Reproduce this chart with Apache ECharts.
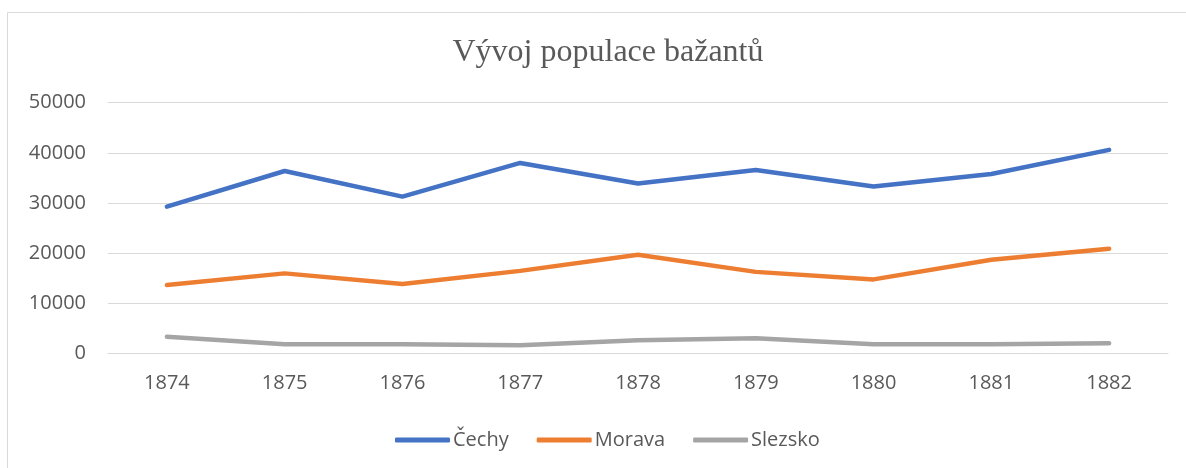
<!DOCTYPE html>
<html>
<head>
<meta charset="utf-8">
<script src="https://cdn.jsdelivr.net/npm/echarts@6/dist/echarts.min.js"></script>
<style>
  html, body { margin: 0; padding: 0; background: #fff; }
  #chart { width: 1186px; height: 468px; }
</style>
</head>
<body>
<div id="chart"></div>
<script>
var years = ['1874', '1875', '1876', '1877', '1878', '1879', '1880', '1881', '1882'];
var cechy = [29300, 36400, 31300, 38000, 33900, 36600, 33300, 35800, 40600];
var morava = [13700, 16000, 13900, 16500, 19700, 16300, 14800, 18700, 20900];
var slezsko = [3400, 1900, 1900, 1700, 2700, 3100, 1900, 1900, 2100];
var yTicks = [0, 10000, 20000, 30000, 40000, 50000];

var chart = echarts.init(document.getElementById('chart'));

function lineSeries(name, data, color) {
    return {
        name: name,
        type: 'line',
        data: data,
        symbol: 'none',
        smooth: false,
        itemStyle: { color: color },
        lineStyle: { color: color, width: 4.5, cap: 'round', join: 'round' }
    };
}

var option = {
    animation: false,
    graphic: [{
        type: 'rect',
        shape: { x: 7.5, y: 12.5, width: 1200, height: 500 },
        style: { fill: 'none', stroke: '#d9d9d9', lineWidth: 1 },
        silent: true
    }],
    title: {
        text: 'Vývoj populace bažantů',
        left: 603,
        textAlign: 'center',
        top: 32,
        textStyle: {
            fontFamily: 'Liberation Serif',
            fontSize: 32,
            fontWeight: 'normal',
            color: '#595959'
        }
    },
    legend: {
        left: 390,
        top: 425,
        icon: 'roundRect',
        itemWidth: 55,
        itemHeight: 5,
        itemGap: 28,
        data: ['Čechy', 'Morava', 'Slezsko'],
        textStyle: {
            fontFamily: 'Open Sans',
            fontSize: 20,
            color: '#595959',
            padding: [0, 0, 0, -2]
        }
    },
    grid: {
        left: 108,
        right: 18,
        top: 102.7,
        bottom: 114.3
    },
    xAxis: {
        type: 'category',
        data: years,
        boundaryGap: true,
        axisLine: { show: true, lineStyle: { color: '#d9d9d9', width: 1 } },
        axisTick: { show: false },
        axisLabel: {
            margin: 20,
            fontFamily: 'Open Sans',
            fontSize: 20,
            color: '#595959'
        }
    },
    yAxis: {
        type: 'value',
        min: yTicks[0],
        max: yTicks[yTicks.length - 1],
        interval: 10000,
        axisLine: { show: false },
        axisTick: { show: false },
        splitLine: { lineStyle: { color: '#d9d9d9', width: 1 } },
        axisLabel: {
            margin: 22,
            fontFamily: 'Open Sans',
            fontSize: 20,
            color: '#595959',
            formatter: function (v) { return String(v); }
        }
    },
    series: [
        lineSeries('Čechy', cechy, '#4472c4'),
        lineSeries('Morava', morava, '#ed7d31'),
        lineSeries('Slezsko', slezsko, '#a5a5a5')
    ]
};

chart.setOption(option);
</script>
</body>
</html>
